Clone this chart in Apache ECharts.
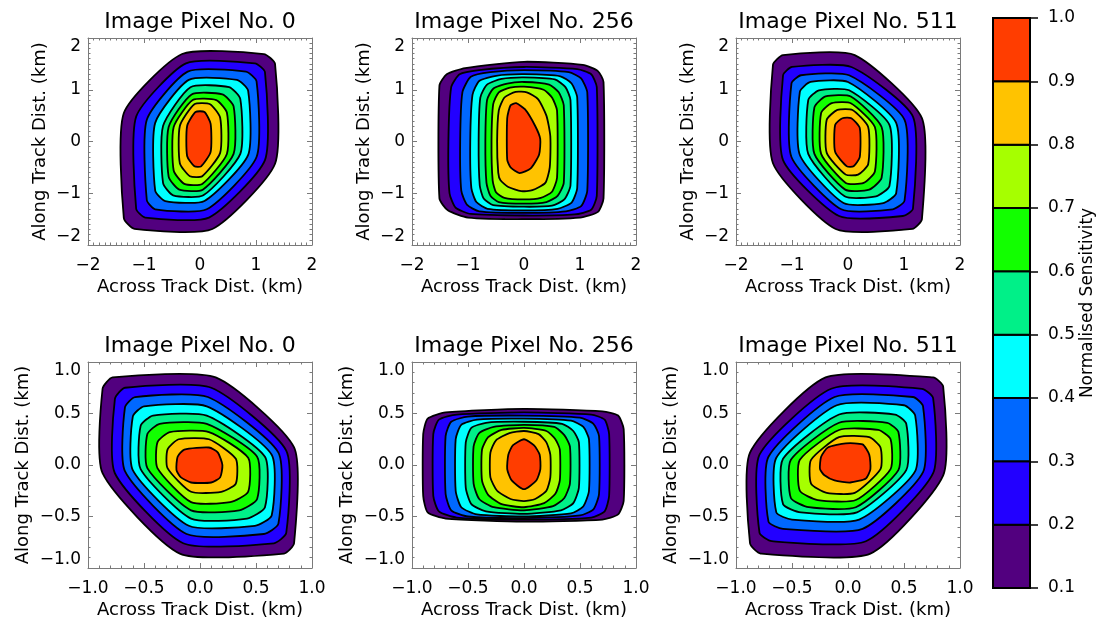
<!DOCTYPE html>
<html>
<head>
<meta charset="utf-8">
<script src="https://cdn.jsdelivr.net/npm/echarts@6/dist/echarts.min.js"></script>
<style>
  html, body { margin: 0; padding: 0; background: #fff; }
  #chart { width: 1099px; height: 620px; }
</style>
</head>
<body>
<div id="chart"></div>
<script>
// contour levels and fill colours (band i spans levels[i]..levels[i+1])
const levels = [0.1, 0.2, 0.3, 0.4, 0.5, 0.6, 0.7, 0.8, 0.9, 1.0];
const levelColors = ['#52007f', '#2200ff', '#0068ff', '#00ffff', '#00f088',
                     '#12ff00', '#a6ff00', '#ffc300', '#ff3d00'];

const panelTitles = ['Image Pixel No. 0', 'Image Pixel No. 256', 'Image Pixel No. 511',
                     'Image Pixel No. 0', 'Image Pixel No. 256', 'Image Pixel No. 511'];
const topRowTicks = [-2, -1, 0, 1, 2];
const bottomRowTicks = [-1.0, -0.5, 0.0, 0.5, 1.0];

// contour outlines [across, along] in km, outer (0.1) first
const p1Contours = [
  [[-1.36,-1.48],[-1.36,0.55],[-0.32,1.69],[1.14,1.69],[1.34,1.50],[1.34,-0.43],[0.22,-1.69],[-1.17,-1.69]],
  [[-1.14,-1.30],[-1.14,0.48],[-0.25,1.51],[0.98,1.51],[1.16,1.34],[1.16,-0.36],[0.16,-1.47],[-0.98,-1.47]],
  [[-0.95,-1.13],[-0.95,0.42],[-0.22,1.35],[0.82,1.35],[1.01,1.16],[1.01,-0.30],[0.12,-1.31],[-0.80,-1.31]],
  [[-0.80,-0.95],[-0.80,0.36],[-0.20,1.19],[0.66,1.19],[0.86,0.98],[0.86,-0.26],[0.08,-1.15],[-0.62,-1.15]],
  [[-0.66,-0.80],[-0.66,0.30],[-0.17,1.05],[0.52,1.05],[0.72,0.82],[0.72,-0.24],[0.06,-1.04],[-0.48,-1.04]],
  [[-0.56,-0.68],[-0.56,0.28],[-0.15,0.91],[0.40,0.91],[0.60,0.68],[0.60,-0.24],[0.05,-0.93],[-0.37,-0.93]],
  [[-0.47,-0.56],[-0.47,0.28],[-0.13,0.80],[0.29,0.80],[0.48,0.56],[0.48,-0.24],[0.04,-0.82],[-0.28,-0.82]],
  [[-0.36,-0.42],[-0.36,0.30],[-0.10,0.72],[0.18,0.72],[0.36,0.46],[0.36,-0.22],[0.04,-0.67],[-0.18,-0.67]],
  [[-0.23,-0.28],[-0.23,0.30],[-0.08,0.57],[0.08,0.57],[0.19,0.34],[0.19,-0.20],[0.02,-0.48],[-0.10,-0.48]]
];

const p2Contours = [
  [[-1.51,-1.10],[-1.51,1.08],[-1.38,1.30],[-1.05,1.42],[0.00,1.54],[1.05,1.48],[1.32,1.36],[1.42,1.15],[1.42,-1.10],[1.32,-1.36],[1.00,-1.47],[0.00,-1.50],[-1.00,-1.47],[-1.36,-1.33]],
  [[-1.33,-1.00],[-1.35,0.00],[-1.30,1.05],[-1.15,1.30],[-0.80,1.38],[0.00,1.44],[0.95,1.40],[1.20,1.30],[1.30,1.05],[1.30,-1.05],[1.20,-1.32],[0.90,-1.41],[0.00,-1.43],[-0.95,-1.40],[-1.22,-1.28]],
  [[-1.12,-0.95],[-1.14,0.00],[-1.10,0.95],[-0.95,1.25],[-0.60,1.34],[0.00,1.38],[0.80,1.34],[1.02,1.22],[1.13,0.95],[1.13,-0.95],[1.02,-1.25],[0.75,-1.35],[0.00,-1.38],[-0.80,-1.35],[-1.02,-1.22]],
  [[-0.94,-0.90],[-0.96,0.00],[-0.92,0.90],[-0.80,1.17],[-0.50,1.27],[0.00,1.30],[0.65,1.26],[0.85,1.12],[0.95,0.85],[0.95,-0.90],[0.85,-1.18],[0.60,-1.30],[0.00,-1.33],[-0.65,-1.30],[-0.85,-1.17]],
  [[-0.79,-0.85],[-0.81,0.00],[-0.78,0.85],[-0.66,1.10],[-0.40,1.21],[0.00,1.24],[0.55,1.20],[0.74,1.05],[0.83,0.80],[0.83,-0.85],[0.72,-1.12],[0.50,-1.24],[0.00,-1.26],[-0.55,-1.23],[-0.72,-1.10]],
  [[-0.67,-0.80],[-0.69,0.00],[-0.66,0.80],[-0.55,1.02],[-0.30,1.12],[0.00,1.15],[0.45,1.10],[0.62,0.95],[0.71,0.70],[0.71,-0.80],[0.60,-1.05],[0.40,-1.17],[0.00,-1.20],[-0.45,-1.17],[-0.60,-1.05]],
  [[-0.56,-0.75],[-0.58,0.00],[-0.55,0.72],[-0.45,0.95],[-0.25,1.04],[0.00,1.06],[0.35,1.00],[0.50,0.85],[0.59,0.60],[0.59,-0.70],[0.50,-0.97],[0.30,-1.09],[0.00,-1.12],[-0.35,-1.09],[-0.50,-0.98]],
  [[-0.46,-0.60],[-0.48,0.00],[-0.45,0.60],[-0.35,0.85],[-0.15,0.96],[0.05,0.95],[0.25,0.82],[0.40,0.50],[0.47,0.10],[0.46,-0.50],[0.38,-0.80],[0.15,-0.94],[-0.05,-0.96],[-0.28,-0.88],[-0.42,-0.75]],
  [[-0.30,-0.35],[-0.30,0.45],[-0.24,0.70],[-0.14,0.74],[0.02,0.62],[0.20,0.30],[0.29,0.05],[0.27,-0.25],[0.12,-0.52],[-0.08,-0.61],[-0.24,-0.50]]
];

const p3Contours = [
  [[-1.34,-0.42],[-1.34,1.48],[-1.16,1.67],[0.12,1.67],[1.32,0.45],[1.32,-1.50],[1.15,-1.69],[-0.22,-1.69]],
  [[-1.16,-0.36],[-1.16,1.28],[-1.00,1.44],[0.06,1.44],[1.16,0.48],[1.16,-1.30],[0.98,-1.44],[-0.16,-1.44]],
  [[-1.01,-0.30],[-1.01,1.12],[-0.84,1.28],[0.02,1.28],[1.01,0.42],[1.01,-1.14],[0.80,-1.31],[-0.12,-1.31]],
  [[-0.86,-0.26],[-0.86,0.96],[-0.67,1.15],[0.00,1.15],[0.86,0.36],[0.86,-1.00],[0.63,-1.19],[-0.08,-1.19]],
  [[-0.71,-0.24],[-0.71,0.80],[-0.52,0.99],[0.02,0.99],[0.74,0.32],[0.74,-0.86],[0.50,-1.06],[-0.06,-1.06]],
  [[-0.60,-0.24],[-0.60,0.66],[-0.40,0.87],[0.05,0.87],[0.60,0.28],[0.60,-0.70],[0.38,-0.93],[-0.05,-0.93]],
  [[-0.48,-0.24],[-0.48,0.55],[-0.29,0.74],[0.05,0.74],[0.48,0.28],[0.48,-0.58],[0.28,-0.80],[-0.04,-0.80]],
  [[-0.38,-0.22],[-0.38,0.42],[-0.19,0.61],[0.08,0.61],[0.36,0.28],[0.36,-0.44],[0.18,-0.64],[-0.04,-0.64]],
  [[-0.23,-0.20],[-0.23,0.32],[-0.10,0.45],[0.06,0.45],[0.21,0.26],[0.21,-0.30],[0.10,-0.48],[-0.02,-0.48]]
];

const p4Contours = [
  [[-0.87,-0.08],[-0.87,0.74],[-0.78,0.85],[0.14,0.85],[0.84,0.17],[0.84,-0.76],[0.75,-0.86],[-0.18,-0.86]],
  [[-0.76,-0.08],[-0.76,0.64],[-0.67,0.75],[0.10,0.75],[0.77,0.14],[0.77,-0.66],[0.66,-0.76],[-0.15,-0.76]],
  [[-0.67,-0.06],[-0.67,0.56],[-0.58,0.66],[0.07,0.66],[0.70,0.12],[0.70,-0.57],[0.57,-0.67],[-0.12,-0.67]],
  [[-0.60,-0.05],[-0.60,0.47],[-0.50,0.57],[0.06,0.57],[0.64,0.10],[0.64,-0.49],[0.49,-0.59],[-0.10,-0.59]],
  [[-0.53,-0.04],[-0.53,0.38],[-0.42,0.48],[0.06,0.48],[0.58,0.08],[0.58,-0.41],[0.42,-0.52],[-0.08,-0.52]],
  [[-0.47,-0.03],[-0.47,0.30],[-0.36,0.40],[0.06,0.40],[0.51,0.08],[0.51,-0.33],[0.35,-0.44],[-0.08,-0.44]],
  [[-0.38,-0.03],[-0.38,0.22],[-0.27,0.32],[0.08,0.32],[0.43,0.07],[0.43,-0.26],[0.27,-0.36],[-0.08,-0.36]],
  [[-0.29,-0.03],[-0.29,0.15],[-0.19,0.25],[0.08,0.25],[0.32,0.06],[0.32,-0.18],[0.19,-0.26],[-0.08,-0.26]],
  [[-0.21,-0.05],[-0.20,0.08],[-0.14,0.15],[0.08,0.17],[0.16,0.12],[0.20,0.00],[0.18,-0.12],[0.10,-0.17],[-0.08,-0.17],[-0.17,-0.12]]
];

const p5Contours = [
  [[-0.90,-0.30],[-0.90,0.30],[-0.86,0.45],[-0.70,0.51],[0.00,0.545],[0.70,0.52],[0.84,0.48],[0.89,0.35],[0.89,-0.35],[0.84,-0.48],[0.70,-0.53],[0.00,-0.55],[-0.70,-0.52],[-0.86,-0.46]],
  [[-0.81,-0.30],[-0.81,0.30],[-0.76,0.44],[-0.60,0.49],[0.00,0.51],[0.60,0.49],[0.72,0.44],[0.76,0.30],[0.76,-0.30],[0.72,-0.45],[0.60,-0.51],[0.00,-0.53],[-0.60,-0.51],[-0.76,-0.45]],
  [[-0.70,-0.28],[-0.70,0.28],[-0.65,0.42],[-0.50,0.47],[0.00,0.48],[0.50,0.46],[0.62,0.40],[0.67,0.28],[0.67,-0.28],[0.62,-0.43],[0.50,-0.49],[0.00,-0.515],[-0.50,-0.50],[-0.65,-0.44]],
  [[-0.61,-0.25],[-0.61,0.25],[-0.56,0.39],[-0.42,0.44],[0.00,0.45],[0.42,0.43],[0.53,0.37],[0.58,0.25],[0.58,-0.25],[0.53,-0.40],[0.42,-0.47],[0.00,-0.50],[-0.42,-0.48],[-0.56,-0.41]],
  [[-0.52,-0.22],[-0.52,0.22],[-0.47,0.36],[-0.34,0.41],[0.00,0.42],[0.34,0.40],[0.44,0.33],[0.49,0.22],[0.49,-0.22],[0.44,-0.37],[0.33,-0.44],[0.00,-0.475],[-0.34,-0.45],[-0.47,-0.38]],
  [[-0.45,-0.18],[-0.45,0.18],[-0.40,0.31],[-0.27,0.37],[0.00,0.39],[0.27,0.37],[0.36,0.29],[0.41,0.18],[0.41,-0.18],[0.36,-0.32],[0.26,-0.40],[0.00,-0.44],[-0.27,-0.41],[-0.40,-0.33]],
  [[-0.375,-0.15],[-0.375,0.15],[-0.32,0.27],[-0.20,0.34],[0.00,0.36],[0.20,0.33],[0.28,0.25],[0.32,0.15],[0.32,-0.15],[0.28,-0.28],[0.18,-0.37],[0.00,-0.41],[-0.20,-0.38],[-0.32,-0.29]],
  [[-0.30,-0.12],[-0.30,0.12],[-0.25,0.24],[-0.13,0.31],[0.00,0.33],[0.13,0.30],[0.20,0.22],[0.235,0.10],[0.235,-0.12],[0.20,-0.25],[0.10,-0.33],[0.00,-0.35],[-0.12,-0.33],[-0.24,-0.25]],
  [[-0.15,-0.04],[-0.14,0.10],[-0.10,0.19],[0.00,0.25],[0.09,0.19],[0.14,0.10],[0.146,-0.04],[0.11,-0.15],[0.00,-0.235],[-0.11,-0.15]]
];

const p6Contours = [
  [[-0.875,-0.76],[-0.875,0.12],[-0.20,0.85],[0.76,0.85],[0.85,0.76],[0.85,-0.10],[0.20,-0.86],[-0.78,-0.86]],
  [[-0.79,-0.66],[-0.79,0.10],[-0.15,0.74],[0.66,0.74],[0.76,0.65],[0.76,-0.08],[0.16,-0.74],[-0.68,-0.74]],
  [[-0.71,-0.55],[-0.71,0.08],[-0.12,0.66],[0.58,0.66],[0.67,0.57],[0.67,-0.07],[0.13,-0.62],[-0.58,-0.62]],
  [[-0.64,-0.46],[-0.64,0.07],[-0.10,0.58],[0.50,0.58],[0.60,0.48],[0.60,-0.06],[0.10,-0.53],[-0.50,-0.53]],
  [[-0.58,-0.38],[-0.58,0.06],[-0.08,0.49],[0.42,0.49],[0.52,0.40],[0.52,-0.05],[0.08,-0.46],[-0.42,-0.46]],
  [[-0.51,-0.32],[-0.51,0.05],[-0.08,0.41],[0.35,0.41],[0.45,0.32],[0.45,-0.05],[0.07,-0.41],[-0.35,-0.41]],
  [[-0.43,-0.25],[-0.43,0.05],[-0.08,0.34],[0.27,0.34],[0.38,0.25],[0.38,-0.04],[0.07,-0.34],[-0.27,-0.34]],
  [[-0.33,-0.18],[-0.33,0.05],[-0.08,0.27],[0.19,0.27],[0.29,0.17],[0.29,-0.04],[0.06,-0.27],[-0.19,-0.27]],
  [[-0.25,-0.04],[-0.24,0.08],[-0.18,0.17],[-0.02,0.21],[0.13,0.20],[0.19,0.10],[0.20,-0.04],[0.16,-0.13],[0.02,-0.17],[-0.12,-0.15],[-0.21,-0.10]]
];

const panelContours = [p1Contours, p2Contours, p3Contours, p4Contours, p5Contours, p6Contours];

const FONT = 'DejaVu Sans';
const FRAME = '#7a7a7a';
const panelLefts = [88, 412, 736];
const panelTops = [38, 362];

const fmtKm = (dec) => (v) => (v < 0 ? '\u2212' : '') + Math.abs(v).toFixed(dec);

const grid = [];
const xAxis = [];
const yAxis = [];
const series = [];

panelContours.forEach((contours, g) => {
  const row = g < 3 ? 0 : 1;
  const ticks = row === 0 ? topRowTicks : bottomRowTicks;
  const lo = ticks[0], hi = ticks[ticks.length - 1], step = ticks[1] - ticks[0];
  const dec = row === 0 ? 0 : 1;
  const minorSplit = row === 0 ? 10 : 5;
  grid.push({ left: panelLefts[g % 3], top: panelTops[row], width: 224, height: 207 });

  const common = {
    type: 'value', min: lo, max: hi, interval: step, gridIndex: g,
    splitLine: { show: false },
    axisLine: { show: true, onZero: false, lineStyle: { color: FRAME, width: 1 } },
    axisTick: { show: true, inside: true, length: 5, lineStyle: { color: FRAME } },
    minorTick: { show: true, splitNumber: minorSplit, length: 2.5, lineStyle: { color: FRAME } }
  };
  xAxis.push(Object.assign({}, common, {
    position: 'bottom',
    name: 'Across Track Dist. (km)', nameLocation: 'middle', nameGap: 33,
    nameTextStyle: { fontFamily: FONT, fontSize: 18, color: '#000' },
    axisLabel: { fontFamily: FONT, fontSize: 17, color: '#000', margin: 12, formatter: fmtKm(dec) }
  }));
  xAxis.push(Object.assign({}, common, {
    position: 'top',
    name: panelTitles[g], nameLocation: 'middle', nameGap: 5,
    nameTextStyle: { fontFamily: FONT, fontSize: 22, color: '#000' },
    axisLabel: { show: false }
  }));
  yAxis.push(Object.assign({}, common, {
    position: 'left',
    name: 'Along Track Dist. (km)', nameLocation: 'middle', nameGap: row === 0 ? 39 : 56,
    nameTextStyle: { fontFamily: FONT, fontSize: 18, color: '#000' },
    axisLabel: { fontFamily: FONT, fontSize: 17, color: '#000', margin: 7, formatter: fmtKm(dec),
                 verticalAlignMinLabel: 'bottom', verticalAlignMaxLabel: 'top' }
  }));
  yAxis.push(Object.assign({}, common, { position: 'right', axisLabel: { show: false } }));

  series.push({
    type: 'custom',
    xAxisIndex: 2 * g,
    yAxisIndex: 2 * g,
    silent: true,
    data: contours.map((c, i) => [0, 0, i]),
    encode: { x: 0, y: 1 },
    renderItem: (params, api) => {
      const ring = contours[params.dataIndex];
      return {
        type: 'polygon',
        shape: { points: ring.map((p) => api.coord(p)), smooth: 0.2 },
        style: { fill: levelColors[params.dataIndex], stroke: '#000', lineWidth: 1.8 }
      };
    }
  });
});

// colour bar
const cb = panelContours.length;
grid.push({ left: 993, top: 18, width: 37, height: 570 });
xAxis.push({ type: 'value', gridIndex: cb, min: 0, max: 1, show: false });
yAxis.push({
  type: 'value', gridIndex: cb, position: 'right', min: 0.1, max: 1.0, interval: 0.1,
  splitLine: { show: false },
  axisLine: { show: true, onZero: false, lineStyle: { color: '#000', width: 2 } },
  axisTick: { show: true, inside: false, length: 8, lineStyle: { color: '#000', width: 1.5 } },
  axisLabel: { fontFamily: FONT, fontSize: 17, color: '#000', margin: 18,
               formatter: (v) => v.toFixed(1) },
  name: 'Normalised Sensitivity', nameLocation: 'middle', nameRotate: 90, nameGap: 48,
  nameTextStyle: { fontFamily: FONT, fontSize: 17, color: '#000' }
});
series.push({
  type: 'custom',
  xAxisIndex: 2 * cb,
  yAxisIndex: 2 * cb,
  silent: true,
  data: levelColors.map((c, i) => [levels[i], levels[i + 1]]),
  encode: { y: [0, 1] },
  renderItem: (params, api) => {
    const p0 = api.coord([0, api.value(1)]);
    const p1 = api.coord([1, api.value(0)]);
    return {
      type: 'rect',
      shape: { x: p0[0], y: p0[1], width: p1[0] - p0[0], height: p1[1] - p0[1] },
      style: { fill: levelColors[params.dataIndex], stroke: '#000', lineWidth: 2 }
    };
  }
});

const chart = echarts.init(document.getElementById('chart'));
chart.setOption({
  animation: false,
  backgroundColor: '#fff',
  textStyle: { fontFamily: FONT },
  grid: grid,
  xAxis: xAxis,
  yAxis: yAxis,
  series: series
});
</script>
</body>
</html>
